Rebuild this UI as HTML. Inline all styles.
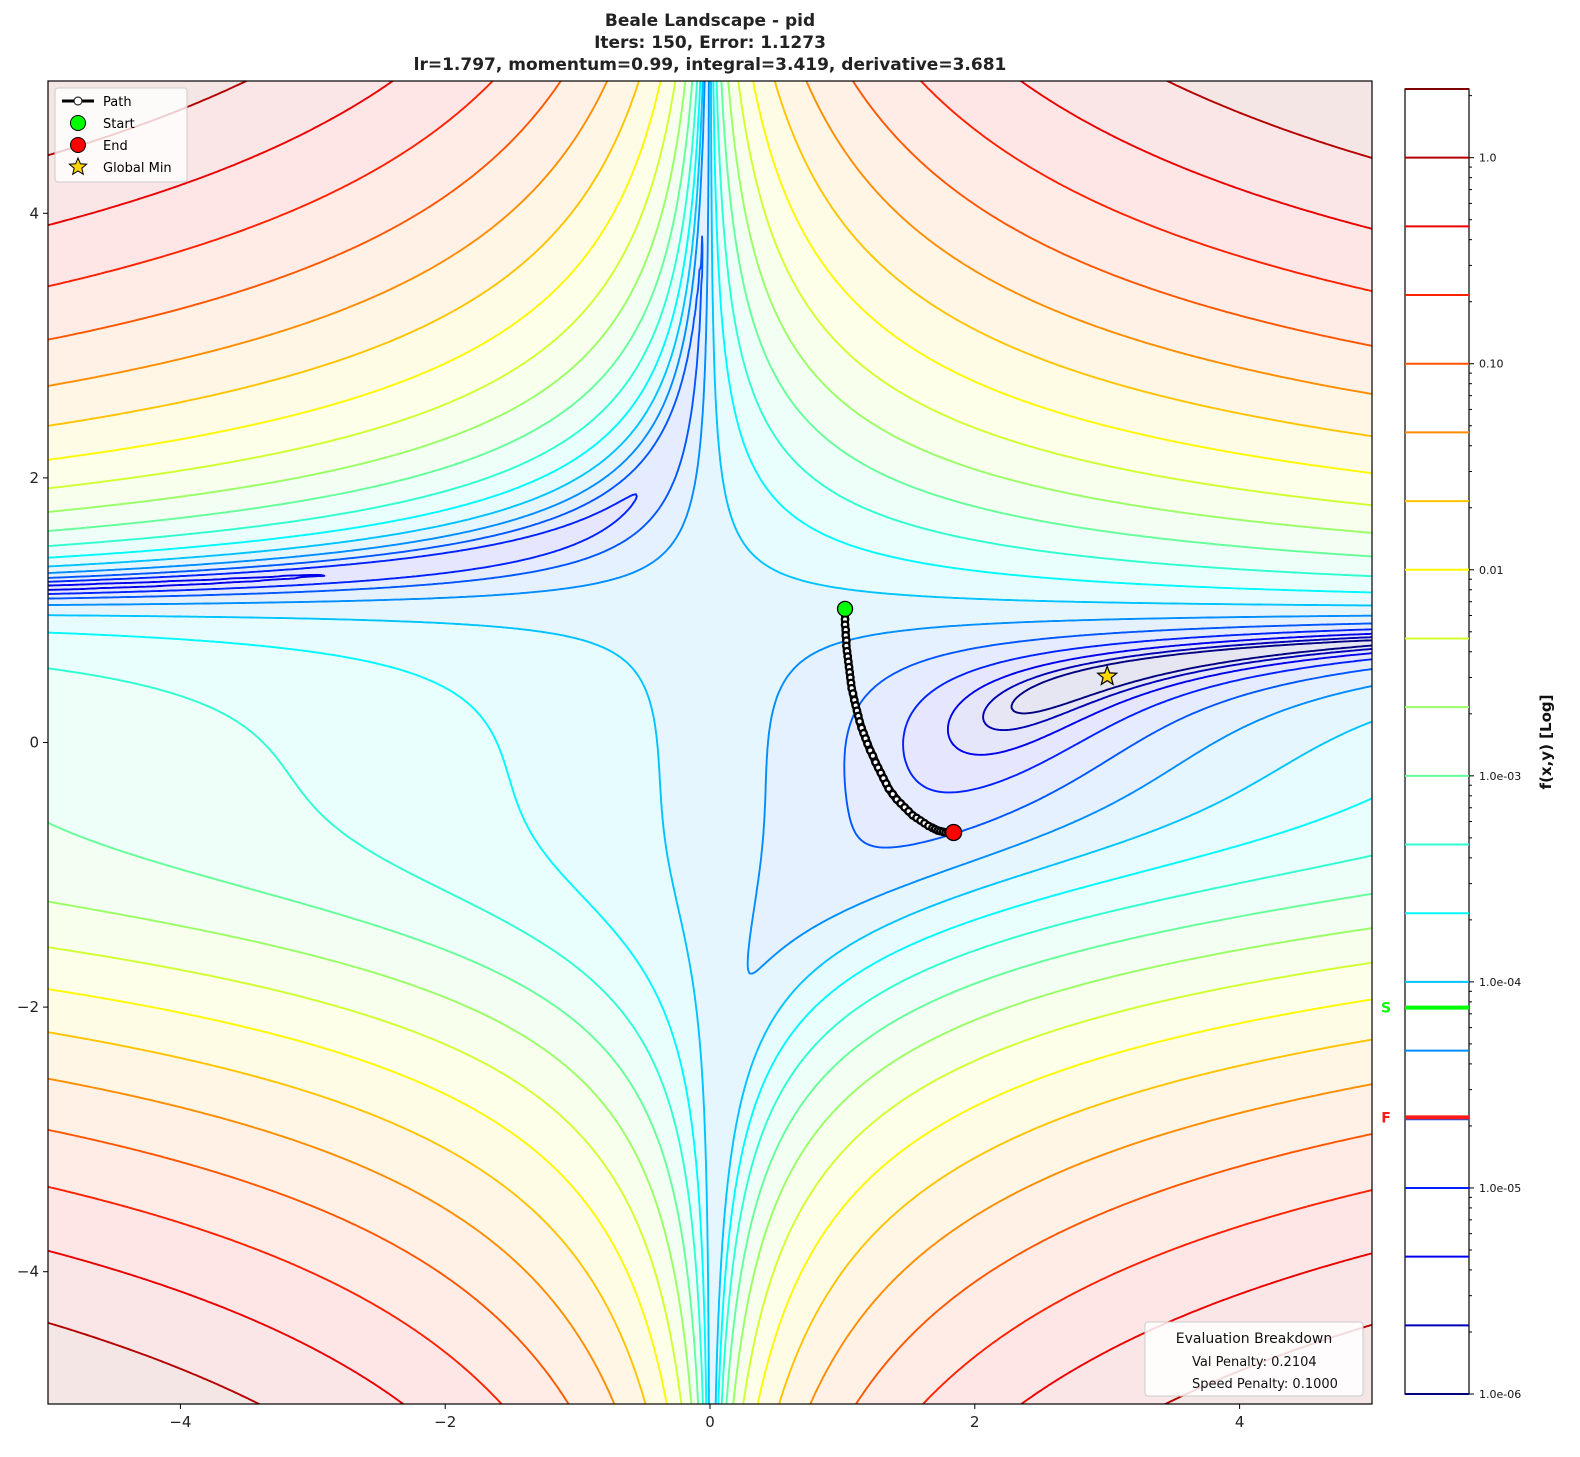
<!DOCTYPE html>
<html><head><meta charset="utf-8">
<style>
html,body{margin:0;padding:0;background:#fff;}
body{width:1580px;height:1457px;position:relative;overflow:hidden;font-family:"DejaVu Sans","Liberation Sans",sans-serif;}
#bg{position:absolute;left:48px;top:81px;}
#svg{position:absolute;left:0;top:0;}
</style></head>
<body>
<canvas id="bg" width="1324" height="1323"></canvas>
<svg id="svg" width="1580" height="1457" xmlns="http://www.w3.org/2000/svg">
<defs><clipPath id="clip"><rect x="48" y="81" width="1324" height="1323"/></clipPath></defs>
<g id="title" font-weight="bold" font-size="17" fill="#222" text-anchor="middle">
<text x="710" y="26">Beale Landscape - pid</text>
<text x="710" y="48">Iters: 150, Error: 1.1273</text>
<text x="710" y="70">lr=1.797, momentum=0.99, integral=3.419, derivative=3.681</text>
</g>
<g id="contours" clip-path="url(#clip)"></g>
<g id="pathg" clip-path="url(#clip)"></g>
<rect x="48" y="81" width="1324" height="1323" fill="none" stroke="#000" stroke-width="1.2"/>
<g id="axes" font-size="15" fill="#222"></g>
<g id="legend">
<rect x="55" y="88" width="132" height="94" rx="3" fill="#fff" fill-opacity="0.8" stroke="#ccc"/>
<g><line x1="62" y1="101" x2="94" y2="101" stroke="#000" stroke-width="3"/><circle cx="78" cy="101" r="4" fill="#fff" stroke="#000"/><text x="103" y="106" font-size="13">Path</text></g>
<g><circle cx="78" cy="123" r="7.5" fill="#00ff00" stroke="#000"/><text x="103" y="128" font-size="13">Start</text></g>
<g><circle cx="78" cy="145" r="7.5" fill="#ff0000" stroke="#000"/><text x="103" y="150" font-size="13">End</text></g>
<g><polygon id="lstar" fill="#ffd700" stroke="#000"/><text x="103" y="172" font-size="13">Global Min</text></g>
</g>
<g>
<rect x="1145" y="1322" width="218" height="74" rx="3" fill="#fff" fill-opacity="0.85" stroke="#ccc"/>
<text x="1254" y="1343" font-size="14" text-anchor="middle" fill="#111">Evaluation Breakdown</text>
<text x="1192" y="1366" font-size="13" fill="#111">Val Penalty: 0.2104</text>
<text x="1192" y="1388" font-size="13" fill="#111">Speed Penalty: 0.1000</text>
</g>
<g id="cbar"></g>
<text transform="translate(1551,742) rotate(-90)" text-anchor="middle" font-size="15" font-weight="bold" fill="#111">f(x,y) [Log]</text>
</svg>
<script>
// contour levels of f(x,y)
const levels = [0.2,0.43,0.925,1.989,4.276,9.194,19.77,42.51,91.41,196.6,422.7,908.9,1954,4202,9036,19430,41780,89840,193200,415400];
// colorbar level values (normalized)
const cbLevels = [1e-6,2.154e-6,4.642e-6,1e-5,2.154e-5,4.642e-5,1e-4,2.154e-4,4.642e-4,1e-3,2.154e-3,4.642e-3,1e-2,2.154e-2,4.642e-2,0.1,0.2154,0.4642,1,2.154];
const cbTickVals = [1e-6,1e-5,1e-4,1e-3,0.01,0.1,1];
const cbTickLabels = ["1.0e-06","1.0e-05","1.0e-04","1.0e-03","0.01","0.10","1.0"];
const sVal = 7.5e-5, fVal = 2.2e-5;
const xTicks = [-4,-2,0,2,4];
const yTicks = [-4,-2,0,2,4];
const pathX = [1.02,1.02,1.02,1.02,1.025,1.025,1.03,1.03,1.035,1.04,1.045,1.05,1.055,1.06,1.065,1.07,1.08,1.09,1.10,1.11,1.12,1.13,1.145,1.16,1.175,1.19,1.21,1.23,1.25,1.27,1.29,1.31,1.33,1.35,1.38,1.41,1.44,1.47,1.50,1.53,1.56,1.59,1.62,1.65,1.68,1.70,1.72,1.74,1.76,1.78,1.80,1.82];
const pathY = [1.01,0.97,0.93,0.89,0.85,0.81,0.77,0.73,0.69,0.65,0.61,0.57,0.53,0.49,0.45,0.41,0.37,0.32,0.28,0.24,0.20,0.16,0.11,0.07,0.03,-0.01,-0.06,-0.10,-0.15,-0.19,-0.23,-0.27,-0.31,-0.35,-0.39,-0.43,-0.46,-0.49,-0.52,-0.55,-0.57,-0.59,-0.61,-0.63,-0.645,-0.655,-0.665,-0.67,-0.675,-0.68,-0.68,-0.68];
const startPt = [1.02, 1.01];
const endPt = [1.84, -0.68];
const minPt = [3.0, 0.5];

const NS='http://www.w3.org/2000/svg';
const X0=48,X1=1372,Y0=81,Y1=1404;
const sx = v => X0 + (v+5)/10*(X1-X0);
const sy = v => Y1 - (v+5)/10*(Y1-Y0);
const f = (x,y)=>{const a=1.5-x+x*y,b=2.25-x+x*y*y,c=2.625-x+x*y*y*y;return a*a+b*b+c*c;};
const cl=v=>Math.max(0,Math.min(1,v));
const jet=t=>[cl(1.5-Math.abs(4*t-3)),cl(1.5-Math.abs(4*t-2)),cl(1.5-Math.abs(4*t-1))];
const jetStr=t=>{const c=jet(t);return `rgb(${Math.round(c[0]*255)},${Math.round(c[1]*255)},${Math.round(c[2]*255)})`;};
const NL=levels.length;

// background fill
(function(){
 const cv=document.getElementById('bg'),ctx=cv.getContext('2d');
 const W=cv.width,H=cv.height,img=ctx.createImageData(W,H),d=img.data;
 const cols=[];for(let i=0;i<=NL;i++){const t=Math.min(1,Math.max(0,(i-0.5)/(NL-1)));const c=jet(t);const a=0.1;cols.push([255*(1-a)+c[0]*255*a,255*(1-a)+c[1]*255*a,255*(1-a)+c[2]*255*a]);}
 for(let j=0;j<H;j++){const y=5-(j+0.5)/H*10;for(let i=0;i<W;i++){const x=-5+(i+0.5)/W*10;const v=f(x,y);let k=0;while(k<NL&&v>=levels[k])k++;const c=cols[k];const p=(j*W+i)*4;d[p]=c[0];d[p+1]=c[1];d[p+2]=c[2];d[p+3]=255;}}
 ctx.putImageData(img,0,0);
})();

// contours via marching squares
(function(){
 const g=document.getElementById('contours');
 const N=500;const gx=[],G=[];
 for(let i=0;i<=N;i++)gx.push(-5+10*i/N);
 for(let j=0;j<=N;j++){const r=[];for(let i=0;i<=N;i++)r.push(Math.log(f(gx[i],gx[j])+1e-12));G.push(r);}
 levels.forEach((L,li)=>{
  const lv=Math.log(L);let d='';
  for(let j=0;j<N;j++)for(let i=0;i<N;i++){
   const a=G[j][i],b=G[j][i+1],c=G[j+1][i+1],e=G[j+1][i];
   const pts=[];
   const edge=(v1,v2,x1,y1,x2,y2)=>{if((v1<lv)!==(v2<lv)){const t=(lv-v1)/(v2-v1);pts.push([x1+(x2-x1)*t,y1+(y2-y1)*t]);}};
   const xa=gx[i],xb=gx[i+1],ya=gx[j],yb=gx[j+1];
   edge(a,b,xa,ya,xb,ya);edge(b,c,xb,ya,xb,yb);edge(c,e,xb,yb,xa,yb);edge(e,a,xa,yb,xa,ya);
   for(let k=0;k+1<pts.length;k+=2){d+=`M${sx(pts[k][0]).toFixed(1)} ${sy(pts[k][1]).toFixed(1)}L${sx(pts[k+1][0]).toFixed(1)} ${sy(pts[k+1][1]).toFixed(1)}`;}
  }
  const p=document.createElementNS(NS,'path');
  p.setAttribute('d',d);p.setAttribute('fill','none');p.setAttribute('stroke',jetStr(li/(NL-1)));p.setAttribute('stroke-width','1.9');p.setAttribute('stroke-linecap','round');
  
  
  g.appendChild(p);
 });
})();

function star(cx,cy,R,r){let s='';for(let k=0;k<10;k++){const ang=-Math.PI/2+k*Math.PI/5;const rr=k%2?r:R;s+=(cx+rr*Math.cos(ang)).toFixed(1)+','+(cy+rr*Math.sin(ang)).toFixed(1)+' ';}return s;}
document.getElementById('lstar').setAttribute('points',star(78,167,9,4));

// path
(function(){
 const g=document.getElementById('pathg');
 let d='';pathX.forEach((x,i)=>{d+=(i?'L':'M')+sx(x).toFixed(1)+' '+sy(pathY[i]).toFixed(1);});
 const pl=document.createElementNS(NS,'path');pl.setAttribute('d',d);pl.setAttribute('fill','none');pl.setAttribute('stroke','#000');pl.setAttribute('stroke-width','8');pl.setAttribute('stroke-linejoin','round');pl.setAttribute('stroke-linecap','round');
 
 
 g.appendChild(pl);
 pathX.forEach((x,i)=>{const c=document.createElementNS(NS,'circle');c.setAttribute('cx',sx(x));c.setAttribute('cy',sy(pathY[i]));c.setAttribute('r','3.2');c.setAttribute('fill','#fff');c.setAttribute('stroke','#000');c.setAttribute('stroke-width','2.4');
  
  
  g.appendChild(c);});
 const s=document.createElementNS(NS,'circle');s.setAttribute('cx',sx(startPt[0]));s.setAttribute('cy',sy(startPt[1]));s.setAttribute('r','7.5');s.setAttribute('fill','#00ff00');s.setAttribute('stroke','#000');s.setAttribute('stroke-width','1.3');
 
 
 g.appendChild(s);
 const e=document.createElementNS(NS,'circle');e.setAttribute('cx',sx(endPt[0]));e.setAttribute('cy',sy(endPt[1]));e.setAttribute('r','8');e.setAttribute('fill','#ff0000');e.setAttribute('stroke','#000');e.setAttribute('stroke-width','1.3');
 
 
 g.appendChild(e);
 const m=document.createElementNS(NS,'polygon');m.setAttribute('points',star(sx(minPt[0]),sy(minPt[1]),10,4.3));m.setAttribute('fill','#ffd700');m.setAttribute('stroke','#000');m.setAttribute('stroke-width','1.2');
 
 
 g.appendChild(m);
})();

// axes ticks
(function(){
 const g=document.getElementById('axes');
 const minus=v=>v<0?'\u2212'+Math.abs(v):''+v;
 xTicks.forEach(v=>{const l=document.createElementNS(NS,'line');l.setAttribute('x1',sx(v));l.setAttribute('x2',sx(v));l.setAttribute('y1',Y1);l.setAttribute('y2',Y1+5);l.setAttribute('stroke','#000');
  
  
  g.appendChild(l);
  const t=document.createElementNS(NS,'text');t.setAttribute('x',sx(v));t.setAttribute('y',Y1+23);t.setAttribute('text-anchor','middle');t.textContent=minus(v);
  
  
  g.appendChild(t);});
 yTicks.forEach(v=>{const l=document.createElementNS(NS,'line');l.setAttribute('x1',X0-5);l.setAttribute('x2',X0);l.setAttribute('y1',sy(v));l.setAttribute('y2',sy(v));l.setAttribute('stroke','#000');
  
  
  g.appendChild(l);
  const t=document.createElementNS(NS,'text');t.setAttribute('x',X0-9);t.setAttribute('y',sy(v)+5);t.setAttribute('text-anchor','end');t.textContent=minus(v);
  
  
  g.appendChild(t);});
})();

// colorbar
(function(){
 const g=document.getElementById('cbar');
 const CX0=1405,CX1=1469,CB=1394,CT=89;
 const lo=Math.log10(cbLevels[0]),hi=Math.log10(cbLevels[cbLevels.length-1]);
 const cy=v=>CB-(Math.log10(v)-lo)/(hi-lo)*(CB-CT);
 const r=document.createElementNS(NS,'rect');r.setAttribute('x',CX0);r.setAttribute('y',CT);r.setAttribute('width',CX1-CX0);r.setAttribute('height',CB-CT);r.setAttribute('fill','#fff');r.setAttribute('stroke','#000');r.setAttribute('stroke-width','1.2');
 
 
 g.appendChild(r);
 cbLevels.forEach((v,i)=>{const l=document.createElementNS(NS,'line');l.setAttribute('x1',CX0);l.setAttribute('x2',CX1);l.setAttribute('y1',cy(v));l.setAttribute('y2',cy(v));l.setAttribute('stroke',jetStr(i/(NL-1)));l.setAttribute('stroke-width','2');
  
  
  g.appendChild(l);});
 [[sVal,'#00ff00','S'],[fVal,'#ff1a1a','F']].forEach(([v,c,s])=>{const l=document.createElementNS(NS,'line');l.setAttribute('x1',CX0);l.setAttribute('x2',CX1);l.setAttribute('y1',cy(v));l.setAttribute('y2',cy(v));l.setAttribute('stroke',c);l.setAttribute('stroke-width','4');
  
  
  g.appendChild(l);
  const t=document.createElementNS(NS,'text');t.setAttribute('x',1386);t.setAttribute('y',cy(v)+5);t.setAttribute('text-anchor','middle');t.setAttribute('fill',c);t.setAttribute('font-weight','bold');t.setAttribute('font-size','14');t.textContent=s;
  
  
  g.appendChild(t);});
 for(let dcd=-6;dcd<=0;dcd++){for(let m=2;m<=9;m++){const v=m*Math.pow(10,dcd);if(cy(v)<CT)continue;const l=document.createElementNS(NS,'line');l.setAttribute('x1',CX1);l.setAttribute('x2',CX1+3);l.setAttribute('y1',cy(v));l.setAttribute('y2',cy(v));l.setAttribute('stroke','#000');
  
  
  g.appendChild(l);}}
 cbTickVals.forEach((v,i)=>{const l=document.createElementNS(NS,'line');l.setAttribute('x1',CX1);l.setAttribute('x2',CX1+5);l.setAttribute('y1',cy(v));l.setAttribute('y2',cy(v));l.setAttribute('stroke','#000');
  
  
  g.appendChild(l);
  const t=document.createElementNS(NS,'text');t.setAttribute('x',CX1+10);t.setAttribute('y',cy(v)+4);t.setAttribute('font-size','11');t.setAttribute('fill','#111');t.textContent=cbTickLabels[i];
  
  
  g.appendChild(t);});
})();
</script>
</body></html>
